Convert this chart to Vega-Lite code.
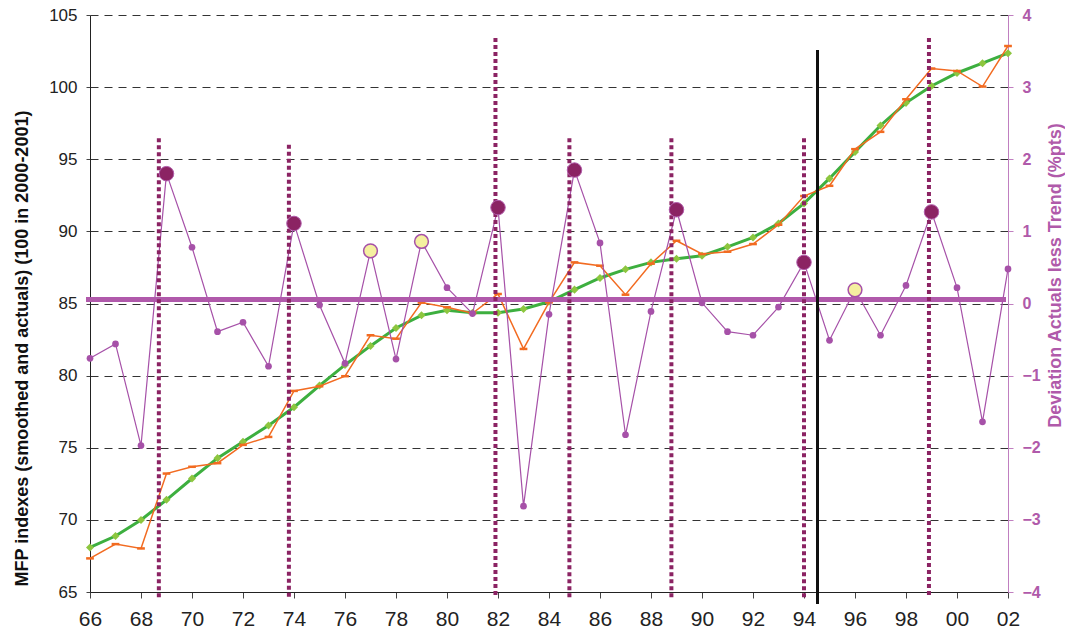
{
  "$schema": "https://vega.github.io/schema/vega-lite/v6.json",
  "width": 918,
  "height": 577,
  "autosize": "none",
  "padding": {"left": 90, "top": 15, "right": 57, "bottom": 46},
  "background": "white",
  "config": {"view": {"stroke": null}, "font": "Liberation Sans"},
  "datasets": {
    "main": [
      {"year": 1966, "smooth": 68.09, "actual": 67.33, "dev": -0.76, "kind": "n"},
      {"year": 1967, "smooth": 68.88, "actual": 68.32, "dev": -0.56, "kind": "n"},
      {"year": 1968, "smooth": 69.99, "actual": 68.02, "dev": -1.97, "kind": "n"},
      {"year": 1969, "smooth": 71.39, "actual": 73.21, "dev": 1.80, "kind": "peak"},
      {"year": 1970, "smooth": 72.87, "actual": 73.68, "dev": 0.78, "kind": "n"},
      {"year": 1971, "smooth": 74.28, "actual": 73.93, "dev": -0.39, "kind": "n"},
      {"year": 1972, "smooth": 75.41, "actual": 75.20, "dev": -0.26, "kind": "n"},
      {"year": 1973, "smooth": 76.54, "actual": 75.75, "dev": -0.87, "kind": "n"},
      {"year": 1974, "smooth": 77.81, "actual": 78.94, "dev": 1.11, "kind": "peak"},
      {"year": 1975, "smooth": 79.31, "actual": 79.26, "dev": -0.02, "kind": "n"},
      {"year": 1976, "smooth": 80.74, "actual": 79.96, "dev": -0.83, "kind": "n"},
      {"year": 1977, "smooth": 82.06, "actual": 82.80, "dev": 0.73, "kind": "yellow"},
      {"year": 1978, "smooth": 83.30, "actual": 82.56, "dev": -0.77, "kind": "n"},
      {"year": 1979, "smooth": 84.18, "actual": 85.06, "dev": 0.86, "kind": "yellow"},
      {"year": 1980, "smooth": 84.53, "actual": 84.74, "dev": 0.22, "kind": "n"},
      {"year": 1981, "smooth": 84.36, "actual": 84.32, "dev": -0.14, "kind": "n"},
      {"year": 1982, "smooth": 84.36, "actual": 85.66, "dev": 1.33, "kind": "peak"},
      {"year": 1983, "smooth": 84.62, "actual": 81.85, "dev": -2.81, "kind": "n"},
      {"year": 1984, "smooth": 85.12, "actual": 85.08, "dev": -0.15, "kind": "n"},
      {"year": 1985, "smooth": 85.96, "actual": 87.85, "dev": 1.85, "kind": "peak"},
      {"year": 1986, "smooth": 86.77, "actual": 87.62, "dev": 0.84, "kind": "n"},
      {"year": 1987, "smooth": 87.37, "actual": 85.61, "dev": -1.82, "kind": "n"},
      {"year": 1988, "smooth": 87.85, "actual": 87.76, "dev": -0.11, "kind": "n"},
      {"year": 1989, "smooth": 88.10, "actual": 89.35, "dev": 1.30, "kind": "peak"},
      {"year": 1990, "smooth": 88.31, "actual": 88.43, "dev": 0.01, "kind": "n"},
      {"year": 1991, "smooth": 88.93, "actual": 88.59, "dev": -0.39, "kind": "n"},
      {"year": 1992, "smooth": 89.58, "actual": 89.12, "dev": -0.44, "kind": "n"},
      {"year": 1993, "smooth": 90.55, "actual": 90.46, "dev": -0.05, "kind": "n"},
      {"year": 1994, "smooth": 91.94, "actual": 92.45, "dev": 0.57, "kind": "peak"},
      {"year": 1995, "smooth": 93.67, "actual": 93.16, "dev": -0.51, "kind": "n"},
      {"year": 1996, "smooth": 95.51, "actual": 95.70, "dev": 0.19, "kind": "yellow"},
      {"year": 1997, "smooth": 97.34, "actual": 96.90, "dev": -0.44, "kind": "n"},
      {"year": 1998, "smooth": 98.91, "actual": 99.16, "dev": 0.25, "kind": "n"},
      {"year": 1999, "smooth": 100.08, "actual": 101.29, "dev": 1.27, "kind": "peak"},
      {"year": 2000, "smooth": 100.98, "actual": 101.12, "dev": 0.22, "kind": "n"},
      {"year": 2001, "smooth": 101.66, "actual": 100.04, "dev": -1.64, "kind": "n"},
      {"year": 2002, "smooth": 102.35, "actual": 102.85, "dev": 0.48, "kind": "n"}
    ],
    "cycles": [
      {"pos": 1968.7, "top": 2.29},
      {"pos": 1973.8, "top": 2.2},
      {"pos": 1981.9, "top": 3.68},
      {"pos": 1984.8, "top": 2.29},
      {"pos": 1988.8, "top": 2.29},
      {"pos": 1994.0, "top": 2.29},
      {"pos": 1998.9, "top": 3.68}
    ]
  },
  "layer": [
    {
      "data": {"name": "main"},
      "encoding": {
        "x": {
          "field": "year", "type": "quantitative",
          "scale": {"domain": [1966, 2002], "nice": false, "zero": false},
          "axis": {
            "values": [1966,1967,1968,1969,1970,1971,1972,1973,1974,1975,1976,1977,1978,1979,1980,1981,1982,1983,1984,1985,1986,1987,1988,1989,1990,1991,1992,1993,1994,1995,1996,1997,1998,1999,2000,2001,2002],
            "labelExpr": "datum.value % 2 == 0 ? substring(toString(datum.value), 2, 4) : ''",
            "title": null, "grid": false,
            "domainColor": "#222", "tickColor": "#444", "tickSize": 6,
            "labelFontSize": 21, "labelColor": "#222", "labelPadding": 10,
            "labelOverlap": false, "labelFlush": false, "labelBound": false, "labelFont": "Liberation Sans"
          }
        }
      },
      "layer": [
        {
          "mark": {"type": "line", "color": "#3DAF3F", "strokeWidth": 3},
          "encoding": {
            "y": {
              "field": "smooth", "type": "quantitative",
              "scale": {"domain": [65, 105], "nice": false, "zero": false},
              "axis": {
                "values": [65, 70, 75, 80, 85, 90, 95, 100, 105],
                "title": "MFP indexes (smoothed and actuals) (100 in 2000-2001)",
                "titleFontSize": 18, "titleFontWeight": "bold", "titleColor": "#111",
                "titleAngle": -90, "titleAlign": "center", "titleBaseline": "alphabetic",
                "titleX": -63, "titleY": 333,
                "grid": true, "gridDash": [8, 6], "gridColor": "#333", "gridWidth": 1,
                "domainColor": "#222", "tickColor": "#444", "tickSize": 4,
                "labelFontSize": 17, "labelColor": "#222", "labelPadding": 9
              }
            }
          }
        },
        {
          "mark": {"type": "point", "shape": "diamond", "filled": true, "color": "#8DC63F", "size": 65, "opacity": 1},
          "encoding": {"y": {"field": "smooth", "type": "quantitative"}}
        },
        {
          "mark": {"type": "line", "color": "#F26B21", "strokeWidth": 1.5},
          "encoding": {"y": {"field": "actual", "type": "quantitative"}}
        },
        {
          "mark": {"type": "point", "shape": "stroke", "filled": false, "color": "#F26B21", "strokeWidth": 2.5, "size": 60, "opacity": 1},
          "encoding": {"y": {"field": "actual", "type": "quantitative"}}
        }
      ]
    },
    {
      "layer": [
        {
          "data": {"name": "main"},
          "mark": {"type": "line", "color": "#A651A8", "strokeWidth": 1.2},
          "encoding": {
            "x": {"field": "year", "type": "quantitative"},
            "y": {
              "field": "dev", "type": "quantitative",
              "scale": {"domain": [-4, 4], "nice": false, "zero": false},
              "axis": {
                "orient": "right",
                "values": [-4, -3, -2, -1, 0, 1, 2, 3, 4],
                "format": "d",
                "title": "Deviation Actuals less Trend (%pts)",
                "titleFontSize": 18, "titleFontWeight": "bold", "titleColor": "#B05AAA",
                "titleAngle": -90, "titleAlign": "center", "titleBaseline": "alphabetic",
                "titleX": 52, "titleY": 260,
                "grid": false,
                "domainColor": "#C07FC0", "tickColor": "#C07FC0", "tickSize": 5,
                "labelFontSize": 16, "labelFontWeight": "bold", "labelColor": "#B05AAA", "labelPadding": 9
              }
            }
          }
        },
        {
          "data": {"name": "main"},
          "mark": {"type": "rule", "color": "#B05AAA", "strokeWidth": 3.5},
          "encoding": {
            "x": {"datum": 1965.85, "type": "quantitative"},
            "x2": {"datum": 2001.9},
            "y": {"datum": 0.056, "type": "quantitative"}
          }
        },
        {
          "data": {"name": "cycles"},
          "mark": {"type": "rule", "color": "#8B2363", "strokeWidth": 4, "strokeDash": [4, 3], "strokeCap": "butt"},
          "encoding": {
            "x": {"field": "pos", "type": "quantitative"},
            "y": {"field": "top", "type": "quantitative"},
            "y2": {"datum": -4.08}
          }
        },
        {
          "data": {"name": "main"},
          "mark": {"type": "rule", "color": "#111", "strokeWidth": 1.5},
          "encoding": {
            "x": {"datum": 1994.53, "type": "quantitative"},
            "y": {"datum": 3.51, "type": "quantitative"},
            "y2": {"datum": -4.16}
          }
        },
        {
          "data": {"name": "main"},
          "transform": [{"filter": "datum.kind == 'n'"}],
          "mark": {"type": "point", "shape": "circle", "filled": true, "color": "#A651A8", "size": 45, "opacity": 1},
          "encoding": {
            "x": {"field": "year", "type": "quantitative"},
            "y": {"field": "dev", "type": "quantitative"}
          }
        },
        {
          "data": {"name": "main"},
          "transform": [{"filter": "datum.kind == 'peak'"}],
          "mark": {"type": "point", "shape": "circle", "filled": true, "fill": "#8B2363", "stroke": "#B05AAA", "strokeWidth": 1, "size": 210, "opacity": 1},
          "encoding": {
            "x": {"field": "year", "type": "quantitative"},
            "y": {"field": "dev", "type": "quantitative"}
          }
        },
        {
          "data": {"name": "main"},
          "transform": [{"filter": "datum.kind == 'yellow'"}],
          "mark": {"type": "point", "shape": "circle", "filled": true, "fill": "#F5F0A0", "stroke": "#A651A8", "strokeWidth": 1.5, "size": 190, "opacity": 1},
          "encoding": {
            "x": {"field": "year", "type": "quantitative"},
            "y": {"field": "dev", "type": "quantitative"}
          }
        }
      ]
    }
  ],
  "resolve": {"scale": {"y": "independent"}}
}
